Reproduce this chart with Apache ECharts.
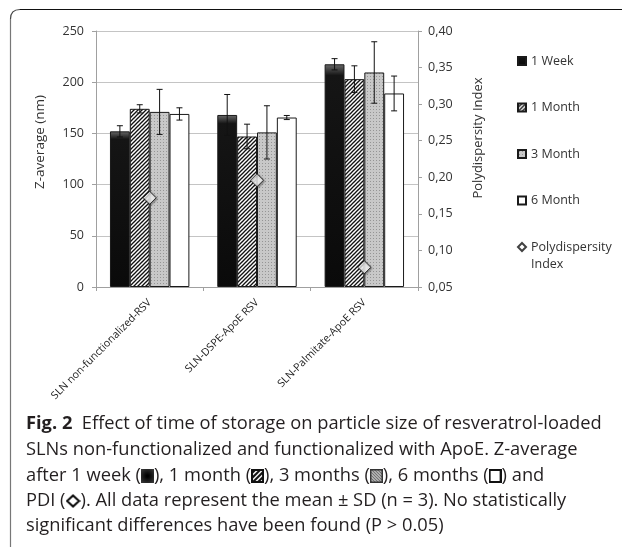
<!DOCTYPE html>
<html><head><meta charset="utf-8">
<script src="https://cdn.jsdelivr.net/npm/echarts@6/dist/echarts.min.js"></script>
<style>html,body{margin:0;padding:0;background:#fff}#c{width:622px;height:547px}</style>
</head><body><div id="c"></div>
<script>
const categories = ['SLN non-functionalized-RSV', 'SLN-DSPE-ApoE RSV', 'SLN-Palmitate-ApoE RSV'];
const seriesNames = ['1 Week', '1 Month', '3 Month', '6 Month'];
const week1 = [152, 168, 217.5];
const week1Sd = [5.5, 20, 5.5];
const month1 = [174, 147, 203];
const month1Sd = [4, 12, 13];
const month3 = [171, 151, 209.5];
const month3Sd = [22, 26, 30];
const month6 = [169, 165.5, 189];
const month6Sd = [6, 2, 17];
const pdi = [0.172, 0.196, 0.077];
const leftTicks = { min: 0, max: 250, interval: 50 };
const rightTicks = { min: 0.05, max: 0.40, interval: 0.05 };

function cnv(w, h, draw) { const c = document.createElement('canvas'); c.width = w; c.height = h; draw(c.getContext('2d'), w, h); return c; }
const hatch = cnv(4, 4, (g) => {
  g.fillStyle = '#fff'; g.fillRect(0, 0, 4, 4);
  g.strokeStyle = '#111'; g.lineWidth = 1.3;
  g.beginPath(); g.moveTo(-1, 5); g.lineTo(5, -1); g.stroke();
  g.beginPath(); g.moveTo(-1, 1); g.lineTo(1, -1); g.stroke();
  g.beginPath(); g.moveTo(3, 5); g.lineTo(5, 3); g.stroke();
});
const stipple = cnv(3, 3, (g) => {
  g.fillStyle = '#c8c8c8'; g.fillRect(0, 0, 3, 3);
  g.fillStyle = '#959595'; g.fillRect(1, 1, 1, 1);
});
// caption icons
const iconWeek = cnv(13, 14, (g, w, h) => {
  const gr = g.createRadialGradient(w / 2, h / 2, 1, w / 2, h / 2, 9);
  gr.addColorStop(0, '#000'); gr.addColorStop(1, '#3a3a3a');
  g.fillStyle = gr; g.fillRect(0, 0, w, h);
});
const iconMonth = cnv(13, 14, (g, w, h) => {
  g.fillStyle = '#fff'; g.fillRect(0, 0, w, h);
  g.strokeStyle = '#111'; g.lineWidth = 2;
  for (let k = -14; k < 28; k += 5) { g.beginPath(); g.moveTo(k, h); g.lineTo(k + h, 0); g.stroke(); }
  g.lineWidth = 2; g.strokeRect(1, 1, w - 2, h - 2);
});
const iconMonth3 = cnv(13, 14, (g, w, h) => {
  g.fillStyle = '#d8d8d8'; g.fillRect(0, 0, w, h);
  g.strokeStyle = '#6a6a6a'; g.lineWidth = 1.2;
  for (let k = -14; k < 28; k += 3) { g.beginPath(); g.moveTo(k, 0); g.lineTo(k + h, h); g.stroke(); }
  g.strokeStyle = '#333'; g.lineWidth = 1.5; g.strokeRect(0.75, 0.75, w - 1.5, h - 1.5);
});
const iconMonth6 = cnv(13, 14, (g, w, h) => {
  g.fillStyle = '#fff'; g.fillRect(0, 0, w, h);
  g.strokeStyle = '#111'; g.lineWidth = 2; g.strokeRect(1, 1, w - 2, h - 2);
});
const iconPdi = cnv(15, 14, (g, w, h) => {
  g.fillStyle = '#fff'; g.strokeStyle = '#111'; g.lineWidth = 2.2;
  g.beginPath(); g.moveTo(w / 2, 1.5); g.lineTo(w - 1.5, h / 2); g.lineTo(w / 2, h - 1.5); g.lineTo(1.5, h / 2); g.closePath();
  g.fill(); g.stroke();
});

const fills = [
  { type: 'linear', x: 0, y: 0, x2: 0, y2: 1, colorStops: [{ offset: 0, color: '#6a6a6a' }, { offset: 0.05, color: '#151515' }, { offset: 1, color: '#0a0a0a' }] },
  { image: hatch, repeat: 'repeat' },
  { image: stipple, repeat: 'repeat' },
  '#ffffff'
];
const values = [week1, month1, month3, month6];
const sds = [week1Sd, month1Sd, month3Sd, month6Sd];
const CAT_GAP = 0.26;

const errData = [];
values.forEach((arr, s) => arr.forEach((v, i) => errData.push([i, v, sds[s][i], s])));

const chart = echarts.init(document.getElementById('c'), null, { renderer: 'canvas' });
const FONT = "'Open Sans', sans-serif";
const CAP = "'Open Sans', sans-serif";
const CAPSIZE = 18.3;

const barSeries = seriesNames.map((n, s) => ({
  name: n, type: 'bar', data: values[s], barGap: '0%', barCategoryGap: (CAT_GAP * 100) + '%',
  itemStyle: { color: fills[s], borderColor: '#1a1a1a', borderWidth: 1 },
  emphasis: { disabled: true }, z: 2
}));

const legendText = { fontSize: 12.5, color: '#333', fontFamily: FONT, lineHeight: 14 };
const option = {
  backgroundColor: '#fff',
  animation: false,
  textStyle: { fontFamily: FONT },
  grid: { left: 96, right: 204, top: 31, bottom: 260, containLabel: false },
  legend: [
    {
      orient: 'vertical', left: 517, top: 54, padding: 0, itemWidth: 8, itemHeight: 8, itemGap: 32.5,
      textStyle: legendText, selectedMode: false,
      data: [
        { name: '1 Week', icon: 'rect' }, { name: '1 Month', icon: 'rect' },
        { name: '3 Month', icon: 'rect' }, { name: '6 Month', icon: 'rect' }
      ]
    },
    {
      orient: 'vertical', left: 517, top: 237.5, padding: 0, itemWidth: 8, itemHeight: 34,
      textStyle: Object.assign({}, legendText, { lineHeight: 17 }), selectedMode: false,
      formatter: n => n === 'Polydispersity Index' ? 'Polydispersity\nIndex' : n,
      data: [{ name: 'Polydispersity Index', icon: 'path://M0,0 L0,0 M4,4.5 L8,8.5 L4,12.5 L0,8.5 Z M8,34 L8,34' }]
    }
  ],
  xAxis: {
    type: 'category', data: categories,
    axisLine: { lineStyle: { color: '#a0a0a0' } },
    axisTick: { show: true, length: 4, lineStyle: { color: '#a0a0a0' } },
    axisLabel: { interval: 0, rotate: 45, fontSize: 10.6, color: '#222', margin: 14, fontFamily: FONT }
  },
  yAxis: [
    {
      type: 'value', min: leftTicks.min, max: leftTicks.max, interval: leftTicks.interval,
      axisLine: { show: true, lineStyle: { color: '#a0a0a0' } },
      axisTick: { show: true, length: 4, lineStyle: { color: '#a0a0a0' } },
      axisLabel: { fontSize: 12.5, color: '#333', margin: 12 },
      splitLine: { lineStyle: { color: '#c4c4c4' } }
    },
    {
      type: 'value', min: rightTicks.min, max: rightTicks.max, interval: rightTicks.interval,
      axisLine: { show: true, lineStyle: { color: '#a0a0a0' } },
      axisTick: { show: true, length: 4, lineStyle: { color: '#a0a0a0' } },
      axisLabel: { fontSize: 12.5, color: '#333', margin: 10, formatter: v => v.toFixed(2).replace('.', ',') },
      splitLine: { show: false }
    }
  ],
  series: barSeries.concat([
    {
      type: 'custom', name: 'err', data: errData, encode: { x: 0, y: 1 }, z: 5, silent: true,
      renderItem: function (params, api) {
        const cat = api.value(0), v = api.value(1), sd = api.value(2), s = api.value(3);
        const c = api.coord([cat, v]);
        const band = api.size([1, 0])[0];
        const bw = band * (1 - CAT_GAP) / 4;
        const x = c[0] + (s - 1.5) * bw;
        const yt = api.coord([cat, v + sd])[1];
        const yb = api.coord([cat, v - sd])[1];
        const st = { stroke: '#111', lineWidth: 1 };
        return { type: 'group', children: [
          { type: 'line', shape: { x1: x, y1: yt, x2: x, y2: yb }, style: st },
          { type: 'line', shape: { x1: x - 3, y1: yt, x2: x + 3, y2: yt }, style: st },
          { type: 'line', shape: { x1: x - 3, y1: yb, x2: x + 3, y2: yb }, style: st }
        ] };
      }
    },
    {
      type: 'scatter', name: 'Polydispersity Index', yAxisIndex: 1, data: pdi,
      symbol: 'diamond', symbolSize: [13, 13], z: 10,
      itemStyle: { color: '#fff', borderColor: '#111', borderWidth: 1, shadowBlur: 2, shadowColor: 'rgba(0,0,0,0.45)', shadowOffsetX: 1, shadowOffsetY: 1 },
      emphasis: { disabled: true }
    }
  ]),
  graphic: [
    { type: 'line', shape: { x1: 10.5, y1: 19, x2: 10.5, y2: 547 }, style: { stroke: '#777', lineWidth: 1.2 }, z: 100 },
    { type: 'bezierCurve', shape: { x1: 10.5, y1: 19, cpx1: 10.5, cpy1: 9.5, x2: 20, y2: 9.5 }, style: { fill: null, stroke: '#444', lineWidth: 1.2 }, z: 100 },
    { type: 'line', shape: { x1: 20, y1: 9.5, x2: 622, y2: 9.5 }, style: { stroke: '#111', lineWidth: 1.2 }, z: 101 },
    { type: 'text', x: 40, y: 142, rotation: Math.PI / 2, style: { text: 'Z-average (nm)', fontSize: 13.5, fill: '#333', fontFamily: FONT, align: 'center', verticalAlign: 'middle' } },
    { type: 'text', x: 478, y: 138, rotation: Math.PI / 2, style: { text: 'Polydispersity Index', fontSize: 13, fill: '#333', fontFamily: FONT, align: 'center', verticalAlign: 'middle' } },
    { type: 'text', left: 26, top: 415, style: {
      text: '{b|Fig. 2}  Effect of time of storage on particle size of resveratrol-loaded',
      fontSize: CAPSIZE, fill: '#231f20', fontFamily: CAP, rich: { b: { fontWeight: 'bold', fontSize: CAPSIZE, fontFamily: CAP, fill: '#231f20' } } } },
    { type: 'text', left: 26, top: 441, style: { text: 'SLNs non-functionalized and functionalized with ApoE. Z-average', fontSize: CAPSIZE, fill: '#231f20', fontFamily: CAP } },
    { type: 'text', left: 26, top: 467, style: {
      text: 'after 1 week ({k|}), 1 month ({h|}), 3 months ({s|}), 6 months ({w|}) and',
      fontSize: CAPSIZE, fill: '#231f20', fontFamily: CAP,
      rich: {
        k: { width: 13, height: 14, backgroundColor: { image: iconWeek } },
        h: { width: 13, height: 14, backgroundColor: { image: iconMonth } },
        s: { width: 13, height: 14, backgroundColor: { image: iconMonth3 } },
        w: { width: 13, height: 14, backgroundColor: { image: iconMonth6 } }
      } } },
    { type: 'text', left: 26, top: 492, style: {
      text: 'PDI ({d|}). All data represent the mean ± SD (n = 3). No statistically',
      fontSize: CAPSIZE, fill: '#231f20', fontFamily: CAP, rich: { d: { width: 15, height: 14, backgroundColor: { image: iconPdi } } } } },
    { type: 'text', left: 26, top: 517, style: { text: 'significant differences have been found (P > 0.05)', fontSize: CAPSIZE, fill: '#231f20', fontFamily: CAP } }
  ]
};
chart.setOption(option);
</script></body></html>
